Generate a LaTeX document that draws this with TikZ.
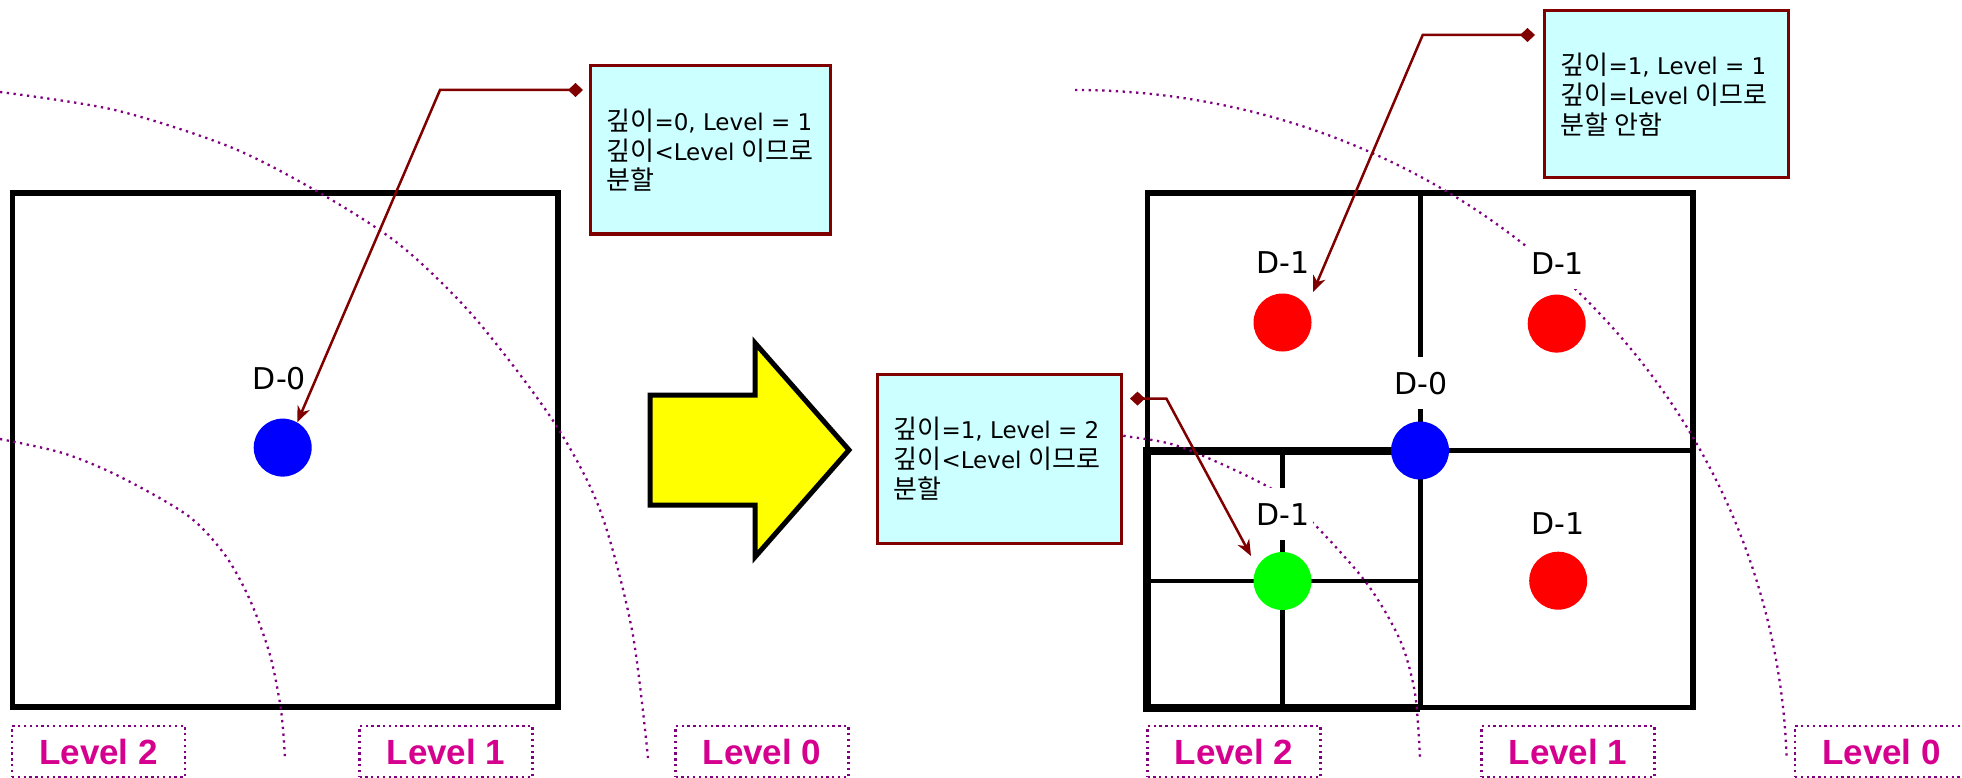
\documentclass[tikz,border=0pt]{standalone}
\usepackage{fontspec}
\setmainfont{DejaVu Sans}
\newfontfamily\krfont{Noto Sans CJK KR}
\newfontfamily\cofont[WordSpace=1.6]{DejaVu Sans}
\newfontfamily\lvfont{Liberation Sans}
\newfontfamily\dlfont{DejaVu Sans}
\newcommand{\krtxt}[1]{{\krfont\fontsize{26}{26}\selectfont #1}}
\usetikzlibrary{arrows.meta}
\definecolor{arcpurple}{HTML}{800080}
\definecolor{lvmag}{HTML}{D6008F}
\definecolor{callred}{HTML}{800000}
\definecolor{callfill}{HTML}{CCFFFF}
\definecolor{dotred}{HTML}{FF0000}
\definecolor{dotblue}{HTML}{0000FF}
\definecolor{dotgreen}{HTML}{00FF00}
\definecolor{arrowyellow}{HTML}{FFFF00}
\begin{document}
\begin{tikzpicture}[x=1pt,y=-1pt,
  sqline/.style={draw=black,line width=5.5pt,line join=miter},
  gridline/.style={draw=black,line width=5pt},
  thickline/.style={draw=black,line width=7.5pt,line join=miter},
  subline/.style={draw=black,line width=4.5pt},
  arcline/.style={draw=arcpurple,line width=2.3pt,dash pattern=on 2.3pt off 4.5pt},
  lvlbox/.style={draw=arcpurple,line width=2.3pt,dash pattern=on 2.3pt off 3.5pt,
    minimum width=173pt,minimum height=51pt,inner sep=0pt,text=lvmag,
    font=\lvfont\bfseries\fontsize{35}{35}\selectfont},
  dotnode/.style={circle,draw=none,minimum size=58pt,inner sep=0pt},
  dlabel/.style={fill=white,inner xsep=3pt,inner ysep=15pt,text height=22pt,text depth=0pt,
    font=\dlfont\fontsize{30}{30}\selectfont},
  callbox/.style={draw=callred,fill=callfill,line width=3pt,inner sep=0pt},
  calltext/.style={inner sep=0pt,anchor=west,font=\cofont\fontsize{23}{25}\selectfont},
  callarrow/.style={draw=callred,line width=2.5pt,line join=miter,
    {Diamond[length=15pt,width=14pt]}-{Stealth[length=16pt,width=13pt,inset=5pt]}},
  bigarrow/.style={draw=black,fill=arrowyellow,line width=5pt,line join=miter}
]
\useasboundingbox (0,0) rectangle (1962,778);

% ---------------- left picture ----------------
\draw[sqline] (12.5,193) rectangle (558,707);
\draw[arcline] plot[smooth] coordinates {(0,92) (114.8,110) (229.6,146.7) (317.6,191.7) (400,245) (474.5,317.5) (553.6,421.6) (600,510) (632,630) (648,758)};
\draw[arcline] plot[smooth] coordinates {(0,439) (62.6,453) (118.6,476) (187.7,515.5) (225,555) (250,600) (270,655) (281,710) (285,758)};
\node[dotnode,fill=dotblue] (lb) at (282.7,447.6) {};
\node[dlabel] (ld0) at (279.5,378) {D-0};

\node[lvlbox] (ll2) at (98.5,751.5) {Level 2};
\node[lvlbox] (ll1) at (446,751.5) {Level 1};
\node[lvlbox] (ll0) at (762,751.5) {Level 0};

\node[callbox,minimum width=240pt,minimum height=168pt] (c1) at (710,150) {};
\node[calltext] (t1a) at ([xshift=18pt,yshift=29pt]c1.west) {\krtxt{깊이}=0, Level = 1};
\node[calltext] (t1b) at ([xshift=18pt,yshift=-0.5pt]c1.west) {\krtxt{깊이}<Level \krtxt{이므로}};
\node[calltext] (t1c) at ([xshift=18pt,yshift=-30pt]c1.west) {\krtxt{분할}};
\coordinate (a1s) at (583,90);
\coordinate (a1b) at (440,90);
\draw[callarrow] (a1s) -- (a1b) -- (lb.60);

% ---------------- big arrow ----------------
\draw[bigarrow] (650,395) -- (755,395) -- (755,343) -- (849,450) -- (755,557) -- (755,505) -- (650,505) -- cycle;

% ---------------- right picture ----------------
\draw[sqline] (1147.5,193) rectangle (1693,707.5);
\draw[gridline] (1420,193) -- (1420,707.5);
\draw[gridline] (1147.5,450.5) -- (1693,450.5);
\draw[thickline] (1420,451) -- (1147,451) -- (1147,708) -- (1420,708);
\draw[subline] (1282.5,451) -- (1282.5,708);
\draw[subline] (1147,581) -- (1420,581);

\draw[arcline] plot[domain=-90:-1.8,samples=90,smooth] ({1075+712*cos(\x)},{780+690*sin(\x)});
\draw[arcline] plot[smooth] coordinates {(1110,433) (1125,436) (1180,446.7) (1266.7,486) (1311.7,521.7) (1366.7,583.3) (1400,640) (1415,693.3) (1420,758)};

\node[dotnode,fill=dotblue] (rb) at (1420,450.5) {};
\node[dotnode,fill=dotgreen] (rg) at (1282.5,581) {};
\node[dotnode,fill=dotred] (rtl) at (1282.5,322.5) {};
\node[dotnode,fill=dotred] (rtr) at (1556.7,323.6) {};
\node[dotnode,fill=dotred] (rbr) at (1558.2,580.7) {};

\node[dlabel] (rd0) at (1421,383) {D-0};
\node[dlabel] (rdtl) at (1283,262) {D-1};
\node[dlabel] (rdtr) at (1557.5,263) {D-1};
\node[dlabel] (rdbr) at (1558.2,523.6) {D-1};
\node[dlabel] (rdll) at (1283,514) {D-1};

\node[lvlbox] (rl2) at (1234,751.5) {Level 2};
\node[lvlbox] (rl1) at (1568,751.5) {Level 1};
\node[lvlbox] (rl0) at (1881.5,751.5) {Level 0};

\node[callbox,minimum width=244pt,minimum height=169pt] (c2) at (999,458.5) {};
\node[calltext] (t2a) at ([xshift=18pt,yshift=29pt]c2.west) {\krtxt{깊이}=1, Level = 2};
\node[calltext] (t2b) at ([xshift=18pt,yshift=-0.5pt]c2.west) {\krtxt{깊이}<Level \krtxt{이므로}};
\node[calltext] (t2c) at ([xshift=18pt,yshift=-30pt]c2.west) {\krtxt{분할}};
\node[callbox,minimum width=244pt,minimum height=167pt] (c3) at (1666,94.5) {};
\node[calltext] (t3a) at ([xshift=18pt,yshift=29pt]c3.west) {\krtxt{깊이}=1, Level = 1};
\node[calltext] (t3b) at ([xshift=18pt,yshift=-0.5pt]c3.west) {\krtxt{깊이}=Level \krtxt{이므로}};
\node[calltext] (t3c) at ([xshift=18pt,yshift=-30pt]c3.west) {\krtxt{분할 안함}};

\coordinate (a2s) at (1130,398.6);
\coordinate (a2b) at (1166.4,398.6);
\coordinate (a2t) at (1251,556);
\draw[callarrow] (a2s) -- (a2b) -- (a2t);
\coordinate (a3s) at (1535,35);
\coordinate (a3b) at (1422.7,35);
\coordinate (a3t) at (1313,292);
\draw[callarrow] (a3s) -- (a3b) -- (a3t);
\end{tikzpicture}
\end{document}
